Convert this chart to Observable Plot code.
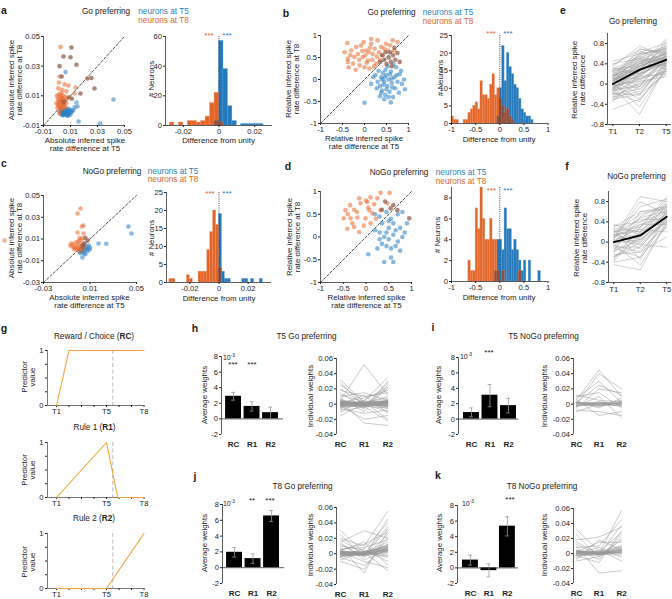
<!DOCTYPE html>
<html><head><meta charset="utf-8">
<script src="https://cdn.jsdelivr.net/npm/d3@7"></script>
<script src="https://cdn.jsdelivr.net/npm/@observablehq/plot@0.6"></script>
<style>
body{margin:0;background:#fff;}
#root{position:relative;width:672px;height:599px;overflow:hidden;font-family:"Liberation Sans",Arial,sans-serif;}
.t{position:absolute;white-space:nowrap;color:#222;line-height:1;}
</style></head><body><div id="root"></div>
<script>
// ---------------- DATA ----------------
// a: Go preferring, absolute differences (x = T5, y = T8)
const aT5 = [[0.0025,-0.0010],[0.0030,-0.0020],[0.0035,-0.0005],[0.0040,-0.0025],[0.0042,-0.0012],[0.0048,-0.0030],[0.0050,-0.0008],[0.0052,-0.0018],[0.0055,0.0002],[0.0058,-0.0027],[0.0060,-0.0012],[0.0063,-0.0020],[0.0066,-0.0004],[0.0070,-0.0030],[0.0072,-0.0015],[0.0075,0.0005],[0.0078,-0.0022],[0.0082,-0.0008],[0.0085,-0.0030],[0.0088,0.0012],[0.0092,-0.0018],[0.0095,0.0003],[0.0100,-0.0026],[0.0105,-0.0010],[0.0110,0.0000],[0.0032,0.0012],[0.0045,0.0008],[0.0038,-0.0030],[0.0068,0.0015],[0.0080,-0.0035],[0.0418,0.0075],[0.0320,-0.0087],[0.0160,-0.0073],[0.0144,0.0055],[0.0130,0.0022],[0.0152,0.0028],[0.0120,0.0001],[0.0063,0.0260]];
const aT8 = [[0.0026,0.0430],[0.0019,0.0230],[0.0056,0.0177],[0.0137,0.0156],[0.0130,0.0116],[0.0033,0.0120],[0.0010,0.0150],[0.0040,0.0140],[0.0070,0.0130],[0.0015,0.0190],[0.0085,0.0170],[0.0000,0.0100],[0.0005,0.0080],[0.0010,0.0060],[0.0012,0.0030],[0.0015,0.0000],[0.0018,-0.0020],[0.0020,0.0090],[0.0022,0.0050],[0.0025,0.0020],[0.0028,0.0070],[0.0030,0.0040],[0.0033,0.0010],[0.0035,0.0085],[0.0038,0.0060],[0.0040,0.0030],[0.0043,0.0100],[0.0045,0.0050],[0.0048,0.0020],[0.0050,0.0075],[0.0053,0.0035],[0.0055,0.0055],[0.0058,0.0095],[0.0060,0.0025],[0.0065,0.0070],[0.0070,0.0050],[0.0075,0.0085],[0.0008,0.0040],[0.0013,0.0110],[0.0003,0.0020],[0.0018,0.0070],[0.0027,0.0105],[0.0032,0.0065],[0.0042,0.0080],[0.0047,0.0040],[-0.0005,0.0050]];
const aBoth = [[0.0107,0.0426],[0.0048,0.0365],[0.0100,0.0360],[0.0144,0.0310],[0.0019,0.0300],[0.0226,0.0217],[0.0255,0.0220],[0.0278,0.0149],[0.0174,0.0116],[0.0035,0.0230],[0.0090,0.0090],[0.0110,0.0080],[0.0050,0.0060]];
const aScatDom = [-0.01, 0.05];
const aScatTicks = [-0.01, 0.01, 0.03, 0.05];
// a histogram: [bin start, count]
const aBinW = 0.0025;
const aHistT8 = [[-0.0275,2],[-0.025,0],[-0.0225,2],[-0.02,0],[-0.0175,3],[-0.015,3],[-0.0125,2],[-0.01,3],[-0.0075,6],[-0.005,15],[-0.0025,22],[0,2]];
const aHistT5 = [[-0.0025,3],[0,57],[0.0025,38],[0.005,13],[0.0075,3],[0.0125,1],[0.015,1],[0.0175,1],[0.02,1],[0.0225,1]];
const aHistDom = [-0.03, 0.03];
const aHistTicks = [-0.02, 0, 0.02];
const aHistY = [0, 60];
const aHistYTicks = [0, 20, 40, 60];

// b: Go preferring, relative differences
const bT5 = [[0.25,0.10],[0.30,-0.05],[0.32,0.20],[0.35,-0.15],[0.38,0.05],[0.40,-0.25],[0.42,0.15],[0.45,-0.05],[0.47,-0.35],[0.50,0.10],[0.52,-0.15],[0.55,0.00],[0.57,-0.28],[0.60,0.18],[0.62,-0.08],[0.65,-0.40],[0.68,0.05],[0.70,-0.20],[0.72,0.28],[0.75,-0.05],[0.78,-0.30],[0.80,0.12],[0.85,-0.10],[0.90,0.00],[0.60,-0.52],[0.45,-0.45],[0.35,-0.38],[0.28,-0.20],[0.20,0.05],[0.15,-0.10],[0.00,-0.53],[0.53,0.30],[0.48,0.22],[0.66,0.35],[0.58,0.12],[0.43,-0.12],[0.63,-0.18],[0.73,0.10],[0.38,-0.30],[0.55,-0.40],[0.83,0.20],[0.92,-0.22],[0.50,-0.22],[0.40,0.00],[0.62,0.02],[0.46,0.05]];
const bT8 = [[-0.39,0.83],[-0.38,0.47],[-0.38,0.40],[-0.36,0.28],[-0.19,0.74],[-0.15,0.58],[-0.08,0.77],[-0.04,0.51],[0.04,0.66],[0.08,0.43],[0.15,0.81],[0.19,0.58],[0.23,0.70],[0.26,0.36],[0.30,0.89],[0.38,0.74],[0.41,0.55],[0.49,0.81],[0.53,0.66],[0.64,0.89],[0.68,0.66],[0.75,0.85],[-0.26,0.36],[-0.23,0.51],[-0.11,0.32],[0.00,0.28],[0.11,0.25],[-0.30,0.66],[-0.45,0.62],[-0.12,0.45],[0.02,0.55],[0.10,0.62],[0.18,0.45],[0.28,0.52],[-0.05,0.65],[0.12,0.72],[0.22,0.30],[-0.20,0.22],[0.05,0.38],[0.33,0.62],[0.45,0.70],[-0.32,0.55],[0.58,0.78],[0.15,0.92],[-0.02,0.85],[0.35,0.45]];
const bBoth = [[0.45,0.45],[0.55,0.50],[0.60,0.40],[0.50,0.35],[0.65,0.55],[0.70,0.45],[0.40,0.55],[0.58,0.62],[0.75,0.60],[0.62,0.30],[0.35,0.40],[0.48,0.62],[0.68,0.72],[0.80,0.40]];
const relDom = [-1, 1];
const relTicks = [-1, -0.5, 0, 0.5, 1];
const bBinW = 0.05;
const bHistT8 = [[-1,2],[-0.95,1],[-0.9,1],[-0.75,1],[-0.7,1],[-0.65,3],[-0.6,4],[-0.55,5],[-0.5,6],[-0.45,4],[-0.4,12],[-0.35,8],[-0.3,8],[-0.25,7],[-0.2,11],[-0.15,14],[-0.1,8],[-0.05,10],[0,7],[0.05,5],[0.1,3],[0.15,4],[0.2,2],[0.25,1]];
const bHistT5 = [[-0.05,2],[0,10],[0.05,22],[0.1,12],[0.15,20],[0.2,16],[0.25,14],[0.3,11],[0.35,10],[0.4,7],[0.45,4],[0.5,3],[0.55,2],[0.6,2],[0.65,1]];
const bHistY = [0, 25];
const bHistYTicks = [0, 5, 10, 15, 20, 25];

// c: NoGo preferring, absolute differences
const cT5 = [[0.0430,0.0215],[0.0457,0.0150],[0.0173,0.0058],[0.0240,0.0056],[0.0096,0.0003],[0.0035,-0.0070],[0.0010,-0.0020],[0.0020,0.0010],[0.0030,-0.0010],[0.0040,0.0020],[0.0050,-0.0030],[0.0060,0.0000],[0.0070,0.0030],[0.0080,-0.0010],[0.0090,0.0040],[0.0050,0.0050],[0.0030,0.0030],[0.0060,-0.0040],[0.0020,-0.0030],[0.0070,0.0010],[0.0100,0.0020],[0.0040,-0.0010]];
const cT8 = [[-0.0635,0.0086],[-0.0007,0.0334],[0.0018,0.0380],[0.0044,0.0224],[0.0030,0.0215],[-0.0007,0.0160],[0.0044,0.0150],[0.0010,0.0110],[0.0035,0.0105],[-0.0070,0.0040],[-0.0060,0.0060],[-0.0050,0.0030],[-0.0040,0.0050],[-0.0030,0.0020],[-0.0020,0.0070],[-0.0010,0.0040],[0.0000,0.0010],[0.0010,0.0060],[0.0020,0.0030],[0.0030,0.0000],[0.0040,0.0050],[0.0050,0.0020],[-0.0020,0.0000],[0.0000,0.0080],[-0.0040,0.0010],[0.0020,0.0090],[0.0030,0.0040],[0.0010,-0.0010],[-0.0010,0.0020]];
const cBoth = [[0.0060,0.0110],[0.0080,0.0086],[0.0050,0.0060],[0.0040,0.0030]];
const cScatDom = [-0.03, 0.05];
const cScatXTicks = [-0.03, 0.01, 0.05];
const cScatYTicks = [-0.03, -0.01, 0.01, 0.03, 0.05];
const cBinW = 0.002;
const cHistT8 = [[-0.034,1],[-0.032,1],[-0.022,2],[-0.02,1],[-0.014,3],[-0.012,3],[-0.01,3],[-0.008,9],[-0.006,14],[-0.004,20],[-0.002,16],[0,4]];
const cHistT5 = [[0,19],[0.002,3],[0.004,1],[0.006,1],[0.016,1],[0.018,1],[0.022,1],[0.028,1]];
const cHistDom = [-0.036, 0.036];
const cHistTicks = [-0.02, 0, 0.02];
const cHistY = [0, 25];

// d: NoGo preferring, relative differences
const dT5 = [[0.20,0.50],[0.30,0.45],[0.45,0.55],[0.55,0.40],[0.70,0.50],[0.80,0.55],[0.35,0.30],[0.50,0.20],[0.60,0.30],[0.75,0.20],[0.85,0.10],[0.30,0.10],[0.40,0.00],[0.50,-0.05],[0.60,0.05],[0.70,-0.10],[0.80,0.00],[0.35,-0.15],[0.45,-0.20],[0.55,-0.25],[0.65,-0.20],[0.75,-0.30],[0.40,-0.55],[0.60,-0.55],[0.05,-0.38],[0.25,-0.25],[0.30,-0.05],[0.50,0.35],[0.65,0.15],[0.90,0.30],[0.20,0.15],[0.45,0.10],[0.55,-0.45]];
const dT8 = [[-0.45,0.59],[-0.26,0.60],[-0.12,0.74],[0.03,0.77],[0.18,0.72],[-0.34,0.41],[-0.19,0.43],[-0.01,0.41],[0.14,0.52],[-0.26,0.22],[-0.15,0.11],[-0.41,0.18],[-0.49,0.41],[0.07,0.59],[0.32,0.59],[0.47,0.74],[0.10,0.87],[0.32,0.97],[0.52,0.97],[0.00,0.80],[-0.15,0.85],[0.25,0.85],[-0.35,0.70],[-0.05,0.25],[0.10,0.30],[-0.30,0.30],[0.22,0.40],[-0.20,0.55],[0.05,0.65],[-0.40,0.50]];
const dBoth = [[0.35,0.60],[0.54,0.63],[0.69,0.59],[0.95,0.41],[0.60,0.70],[0.42,0.78]];
const dBinW = 0.05;
const dHistT8 = [[-0.65,2],[-0.6,1],[-0.55,1],[-0.5,7],[-0.45,5],[-0.4,9],[-0.35,6],[-0.3,4],[-0.25,4],[-0.2,6],[-0.15,4],[-0.1,4],[-0.05,1],[0.05,1],[0.4,1]];
const dHistT5 = [[-0.1,1],[-0.05,4],[0,4],[0.05,3],[0.1,7],[0.15,5],[0.2,5],[0.25,3],[0.3,4],[0.35,3],[0.4,2],[0.45,1],[0.5,2],[0.6,2],[0.8,1]];
const dHistY = [0, 9];
const dHistYTicks = [0, 2, 4, 6, 8];

// e / f: relative inferred spike rate difference per neuron at T1, T2, T5
const timeLabels = ["T1", "T2", "T5"];
const eLines = [[0.05,0.35,0.55],[-0.10,0.20,0.45],[0.15,0.45,0.60],[-0.20,-0.10,0.30],[0.00,0.60,0.70],[0.10,0.30,0.40],[-0.05,0.50,0.65],[0.25,0.40,0.50],[-0.15,0.10,0.35],[0.08,-0.20,0.45],[0.30,0.55,0.75],[-0.25,0.00,0.25],[0.12,0.70,0.60],[-0.08,0.25,0.55],[0.02,-0.45,0.30],[0.20,0.15,0.55],[-0.12,0.40,0.80],[0.40,0.50,0.35],[-0.30,-0.20,0.20],[0.06,0.35,0.90],[-0.02,0.05,0.15],[0.18,0.65,0.45],[-0.18,-0.35,0.40],[0.10,0.20,0.70],[0.00,0.45,0.50],[-0.06,-0.60,0.35],[0.22,0.30,0.65],[-0.22,0.15,0.50],[0.35,0.75,0.55],[-0.10,-0.05,0.60],[0.05,0.55,0.40],[0.14,0.10,0.25],[-0.04,0.30,0.75],[0.28,0.20,0.45],[-0.16,0.35,0.55],[0.45,0.60,0.70],[-0.26,-0.15,0.35],[0.00,0.25,0.85],[0.16,0.45,0.30],[-0.14,0.00,0.45],[0.08,0.40,0.60],[-0.35,0.20,0.40],[0.20,-0.05,0.50],[-0.50,-0.30,0.25],[0.04,0.15,0.20],[0.10,0.50,0.50],[-0.08,0.30,0.40],[0.30,0.35,0.60],[0.02,0.42,0.62],[-0.12,0.18,0.52],[0.18,0.28,0.58],[-0.28,0.05,0.48],[0.06,0.62,0.82],[0.12,-0.10,0.38],[-0.06,0.12,0.66],[0.24,0.48,0.42],[-0.20,0.32,0.62],[0.32,0.22,0.52],[0.00,-0.30,0.28],[0.16,0.58,0.68],[-0.10,0.40,0.36],[0.08,0.26,0.78],[-0.32,-0.05,0.30],[0.38,0.68,0.64],[-0.04,0.08,0.44],[0.14,0.36,0.54],[-0.18,-0.22,0.42],[0.26,0.52,0.72]];
const eMean = [0.00, 0.28, 0.48];
const fLines = [[0.05,0.15,0.55],[-0.20,0.20,0.70],[0.25,0.05,0.40],[-0.40,-0.30,0.30],[0.10,0.90,0.80],[0.00,0.40,0.60],[-0.10,-0.10,0.45],[0.20,0.30,0.90],[-0.30,0.10,0.50],[0.30,0.60,0.65],[-0.05,-0.45,0.35],[0.15,0.25,0.20],[-0.15,0.50,0.75],[0.35,0.15,0.55],[-0.25,-0.20,0.10],[0.08,0.70,0.85],[-0.45,-0.55,0.40],[0.12,0.00,0.60],[-0.08,0.35,0.50],[0.22,-0.15,0.30],[0.00,0.10,0.75],[-0.35,0.30,0.65],[0.18,0.45,0.45],[-0.12,-0.30,0.55],[0.28,0.20,0.80],[0.04,-0.05,-0.10],[-0.20,0.60,0.70],[0.10,0.35,0.35],[-0.02,0.05,0.60],[0.25,-0.35,0.50],[-0.30,0.00,0.40],[0.06,0.80,0.55],[0.14,0.22,0.62],[-0.18,0.05,0.45],[0.32,0.40,0.72],[-0.06,-0.20,0.38],[0.20,0.55,0.68],[-0.28,-0.10,0.52],[0.02,0.28,0.85],[-0.38,0.18,0.58],[0.16,-0.05,0.42],[0.08,0.48,0.62]];
const fMean = [0.00, 0.13, 0.50];
const lineYDom = [-0.8, 1.0];
const lineYTicks = [-0.8, -0.4, 0, 0.4, 0.8];

// g: predictors over trial time (T1..T8)
const gTickPos = [1, 2, 3, 4, 5, 6, 7, 8];
const gTickLabels = {1: "T1", 5: "T5", 8: "T8"};
const rcT = [1, 2, 8], rcV = [0, 1, 1];
const r1T = [1, 5, 5.9, 8], r1V = [0, 1, 0, 0];
const r2T = [1, 5, 8], r2V = [0, 0, 1];
const gMarker = 5.5;

// h-k: regression weights
const wCats = ["RC", "R1", "R2"];
const hMean = [2.9, 1.6, 0.8], hLo = [2.4, 1.0, 0.05], hHi = [3.4, 2.2, 1.5];
const iMean = [0.85, 3.1, 1.75], iLo = [0.3, 1.6, 0.8], iHi = [1.45, 4.5, 2.7];
const jMean = [1.95, 1.15, 6.55], jLo = [1.35, 0.55, 5.85], jHi = [2.55, 1.75, 7.25];
const kMean = [1.0, -0.35, 5.35], kLo = [0.35, -1.15, 4.1], kHi = [1.65, 0.5, 6.55];
const wBarDom = [-2, 8], wBarTicks = [-2, 0, 2, 4, 6, 8];
const wIndDom = [-0.04, 0.06], wIndTicks = [-0.04, -0.02, 0, 0.02, 0.04, 0.06];
const hInd = [[0.032,0.002,0.010],[0.028,-0.002,0.020],[0.025,0.004,0.035],[0.020,0.000,-0.010],[0.018,0.010,0.015],[0.015,-0.005,0.030],[0.012,0.003,-0.020],[0.010,0.015,0.005],[0.008,-0.010,0.025],[0.005,0.052,0.012],[0.004,-0.025,-0.028],[0.002,0.008,0.018],[-0.002,-0.020,-0.015],[-0.004,0.005,0.022],[-0.006,-0.012,-0.008],[-0.008,0.002,0.008],[-0.010,-0.003,-0.022],[-0.015,0.000,0.004],[0.000,0.012,-0.012],[0.006,-0.006,0.028],[0.003,0.001,0.002],[-0.002,0.000,-0.001],[0.001,-0.002,0.003],[0.002,0.002,-0.003],[-0.003,0.001,0.001],[0.004,-0.001,0.004],[-0.001,0.003,-0.002],[0.000,-0.001,0.000],[0.002,0.000,-0.004],[-0.004,-0.002,0.003],[0.001,0.002,0.005],[-0.002,-0.003,-0.005],[0.005,0.001,0.001],[-0.005,0.000,0.002],[0.003,-0.003,-0.001],[0.000,0.004,0.003],[-0.001,-0.004,0.006],[0.002,0.001,-0.006],[0.001,0.001,0.001],[-0.001,0.001,-0.002],[0.002,-0.001,0.002],[-0.002,0.002,0.004],[0.003,0.000,-0.002],[0.000,-0.002,0.004],[-0.003,0.000,-0.003],[0.004,0.002,0.000],[0.001,-0.001,-0.001],[-0.001,0.002,0.002]];
const iInd = [[0.005,0.045,0.010],[0.000,0.040,0.020],[0.008,0.030,0.002],[-0.005,0.020,0.015],[0.010,0.015,-0.005],[-0.008,-0.010,-0.015],[0.003,-0.005,0.008],[-0.003,0.010,-0.018],[0.012,0.005,0.003],[-0.010,0.000,0.005],[0.006,-0.015,-0.010],[0.002,0.025,0.012],[0.001,0.002,0.001],[-0.002,0.000,-0.002],[0.003,-0.001,0.002],[0.000,0.003,-0.001],[-0.001,-0.002,0.003],[0.002,0.001,-0.003],[-0.003,0.002,0.000],[0.001,-0.003,0.002],[0.000,0.001,0.000],[0.002,-0.002,-0.001],[-0.002,0.001,0.001]];
const jInd = [[0.030,0.002,0.015],[0.025,-0.005,0.025],[0.020,0.010,0.055],[0.018,0.000,0.035],[0.015,0.030,0.020],[0.012,-0.003,0.045],[0.010,0.005,-0.010],[0.008,-0.025,0.030],[0.005,0.012,0.028],[0.002,-0.010,-0.018],[-0.002,0.006,0.040],[-0.005,-0.015,0.010],[-0.008,0.003,-0.005],[-0.010,-0.020,0.022],[0.004,0.015,-0.015],[0.000,-0.002,0.032],[0.006,0.008,0.018],[-0.004,0.000,0.012],[0.014,-0.008,0.005],[0.003,0.002,-0.022],[0.002,0.001,0.006],[-0.002,-0.001,0.004],[0.003,0.002,0.008],[0.000,-0.002,0.002],[-0.003,0.001,0.010],[0.004,-0.001,0.005],[0.001,0.003,-0.002],[-0.001,0.000,0.007],[0.002,-0.003,0.003],[-0.004,0.002,0.009],[0.003,0.000,-0.003],[0.000,0.001,0.012],[0.001,0.000,0.005],[-0.002,0.001,0.003],[0.003,-0.001,0.007],[0.000,0.002,0.010],[-0.001,-0.001,0.001],[0.002,0.000,0.004],[0.001,0.002,0.006],[-0.003,-0.002,0.008]];
const kInd = [[0.032,0.003,0.010],[0.025,-0.005,0.020],[0.018,0.022,0.035],[0.015,0.000,0.057],[0.010,-0.026,-0.023],[0.008,0.010,0.045],[0.005,-0.008,0.025],[0.002,0.015,0.015],[-0.003,-0.012,0.030],[-0.006,0.005,-0.010],[-0.008,0.018,0.005],[0.012,-0.002,0.038],[0.000,0.008,-0.005],[-0.010,-0.004,0.018],[0.004,0.002,0.028],[0.002,0.001,0.004],[-0.002,0.000,0.002],[0.001,-0.002,0.006],[0.003,0.002,0.000],[-0.001,0.001,0.008],[0.000,-0.001,-0.002],[0.002,0.003,0.005],[-0.003,-0.002,0.003],[0.001,0.000,0.010],[0.004,-0.001,0.001],[0.001,0.001,0.003],[-0.001,-0.001,0.005],[0.002,0.000,0.007],[0.000,0.002,0.001],[-0.002,0.001,0.004],[0.003,-0.001,0.002]];

// ---------------- DRAWING ----------------
const FONT = '"Liberation Sans", Arial, Helvetica, sans-serif';
const root = document.getElementById("root");
const AX = "#333";
const TICK = 7.6;
const BLUE = "#2479bd", ORANGE = "#e2652a", BROWN = "#8a4f3e";
const DOT_BLUE = "#2a80c4", DOT_ORANGE = "#ea6c2f", DOT_BOTH = "#93604e";
const GREY = "#a3a3a3";

function put(cfg, L, T, R, B, m) {
  m = Object.assign({t: 6, r: 6, b: 16, l: 32}, m || {});
  const svg = Plot.plot(Object.assign({
    width: R - L + m.l + m.r, height: B - T + m.t + m.b,
    marginLeft: m.l, marginRight: m.r, marginTop: m.t, marginBottom: m.b,
    style: {fontFamily: FONT, fontSize: TICK + "px", background: "none", color: "#222", overflow: "visible"}
  }, cfg));
  Object.assign(svg.style, {position: "absolute", left: (L - m.l) + "px", top: (T - m.t) + "px", maxWidth: "none"});
  root.appendChild(svg);
}
function txt(html, x, y, o = {}) {
  const d = document.createElement("div");
  d.className = "t";
  d.innerHTML = html;
  d.style.left = x + "px"; d.style.top = y + "px";
  d.style.fontSize = (o.size || 8.2) + "px";
  if (o.color) d.style.color = o.color;
  if (o.bold) d.style.fontWeight = "bold";
  d.style.transform = "translate(-50%,-50%)" + (o.rot ? ` rotate(${o.rot}deg)` : "");
  root.appendChild(d);
}
const fmt = d => String(d);
const axY = (ticks, f = fmt, o = {}) => Plot.axisY({ticks, tickFormat: f, tickSize: 2, tickPadding: 1.5, label: null, color: "#222", ...o});
const axX = (ticks, f = fmt, o = {}) => Plot.axisX({ticks, tickFormat: f, tickSize: 2, tickPadding: 1.5, label: null, color: "#222", ...o});
const frameLines = (x0, y0, o = {}) => [
  Plot.ruleX([x0], {stroke: o.stroke || AX, strokeWidth: 0.8}),
  Plot.ruleY([y0], {stroke: o.stroke || AX, strokeWidth: 0.8})
];
const P = d => d[0], Q = d => d[1];

function scatterMarks(T5, T8, both, dom) {
  return [
    Plot.line(dom.map(v => [v, v]), {x: P, y: Q, stroke: "#222", strokeWidth: 0.8, strokeDasharray: "2.5,2"}),
    Plot.dot(T5, {x: P, y: Q, r: 2.3, fill: DOT_BLUE, fillOpacity: 0.55}),
    Plot.dot(T8, {x: P, y: Q, r: 2.3, fill: DOT_ORANGE, fillOpacity: 0.55}),
    Plot.dot(both, {x: P, y: Q, r: 2.3, fill: DOT_BOTH, fillOpacity: 0.75})
  ];
}
function overlap(A, B) {
  const m = new Map(B.map(d => [d[0].toFixed(4), d[1]]));
  return A.map(d => [d[0], Math.min(d[1], m.get(d[0].toFixed(4)) || 0)]).filter(d => d[1] > 0);
}
function histMarks(T5, T8, w) {
  const o = {x1: P, x2: d => d[0] + w, y1: 0, y2: Q, strokeWidth: 0.35};
  return [
    Plot.rectY(T5, {...o, fill: BLUE, stroke: "#5c9ad0"}),
    Plot.rectY(T8, {...o, fill: ORANGE, stroke: "#f08c5c"}),
    Plot.rectY(overlap(T5, T8), {...o, fill: BROWN, stroke: "#a7705e"}),
    Plot.ruleX([0], {stroke: "#222", strokeWidth: 0.8, strokeDasharray: "1,1.2"})
  ];
}
const rows = lines => lines.flatMap((v, i) => v.map((y, j) => ({i, x: j + 1, y})));

// ---- a ----
put({x: {domain: aScatDom}, y: {domain: aScatDom}, marks: [
  ...frameLines(aScatDom[0], aScatDom[0]), axY(aScatTicks), axX(aScatTicks),
  ...scatterMarks(aT5, aT8, aBoth, aScatDom)
]}, 43, 36, 124, 125);
put({x: {domain: aHistDom}, y: {domain: aHistY}, marks: [
  ...histMarks(aHistT5, aHistT8, aBinW),
  ...frameLines(aHistDom[0], 0), axY(aHistYTicks), axX(aHistTicks)
]}, 165, 36, 272, 125);

// ---- b ----
put({x: {domain: relDom}, y: {domain: relDom}, marks: [
  ...frameLines(-1, -1), axY(relTicks), axX(relTicks),
  ...scatterMarks(bT5, bT8, bBoth, relDom)
]}, 320, 35, 408, 123);
put({x: {domain: relDom}, y: {domain: bHistY}, marks: [
  ...histMarks(bHistT5, bHistT8, bBinW),
  ...frameLines(-1, 0), axY(bHistYTicks), axX(relTicks)
]}, 451, 35, 547.5, 123);

// ---- c ----
put({x: {domain: cScatDom}, y: {domain: cScatDom}, marks: [
  ...frameLines(cScatDom[0], cScatDom[0]), axY(cScatYTicks), axX(cScatXTicks),
  ...scatterMarks(cT5, cT8, cBoth, cScatDom)
]}, 43, 195, 136, 282, {l: 42});
put({x: {domain: cHistDom}, y: {domain: cHistY}, marks: [
  ...histMarks(cHistT5, cHistT8, cBinW),
  ...frameLines(cHistDom[0], 0), axY(bHistYTicks), axX(cHistTicks)
]}, 166, 192, 271, 282);

// ---- d ----
put({x: {domain: relDom}, y: {domain: relDom}, marks: [
  ...frameLines(-1, -1), axY(relTicks), axX(relTicks),
  ...scatterMarks(dT5, dT8, dBoth, relDom)
]}, 320, 191, 411, 282);
put({x: {domain: relDom}, y: {domain: dHistY}, marks: [
  ...histMarks(dHistT5, dHistT8, dBinW),
  ...frameLines(-1, 0), axY(dHistYTicks), axX(relTicks)
]}, 451, 187, 547.5, 281);

// ---- e / f ----
function linePanel(lines, mean, L, T, R, B) {
  put({x: {domain: [0.8, 3.2]}, y: {domain: lineYDom}, marks: [
    ...frameLines(0.8, lineYDom[0]), axY(lineYTicks), axX([1, 2, 3], i => timeLabels[i - 1], {tickPadding: 2}),
    Plot.line(rows(lines), {x: "x", y: "y", z: "i", stroke: GREY, strokeWidth: 0.55, strokeOpacity: 0.9}),
    Plot.line(mean.map((y, j) => ({x: j + 1, y})), {x: "x", y: "y", stroke: "#000", strokeWidth: 1.8})
  ]}, L, T, R, B);
}
linePanel(eLines, eMean, 607, 33, 671, 124);
linePanel(fLines, fMean, 608, 191, 671.5, 282);

// ---- g ----
function gPanel(ts, vs, T, B) {
  put({x: {domain: [0.28, 8]}, y: {domain: [0, 1]}, marks: [
    Plot.ruleX([gMarker], {stroke: "#bdbdbd", strokeWidth: 1, strokeDasharray: "4,2.5"}),
    ...frameLines(0.28, 0, {stroke: "#555"}),
    axY([0, 0.25, 0.5, 0.75, 1], d => (d === 0 || d === 1) ? String(d) : "", {tickPadding: 2}),
    axX(gTickPos, d => gTickLabels[d] || "", {tickPadding: 1}),
    Plot.line(ts.map((t, j) => ({t, v: vs[j]})), {x: "t", y: "v", stroke: "#f0a43a", strokeWidth: 1.1})
  ]}, 47, T, 143.5, B);
}
gPanel(rcT, rcV, 350, 405);
gPanel(r1T, r1V, 442, 497);
gPanel(r2T, r2V, 533, 588);

// ---- h-k ----
function barPanel(mean, lo, hi, L, T, R, B, xdom) {
  const idx = [0, 1, 2];
  put({x: {domain: xdom}, y: {domain: wBarDom}, marks: [
    Plot.rectY(idx, {x1: i => i + 1 - 0.43, x2: i => i + 1 + 0.43, y1: 0, y2: i => mean[i], fill: "#000"}),
    Plot.ruleX(idx, {x: i => i + 1, y1: i => lo[i], y2: i => hi[i], stroke: "#9a9a9a", strokeWidth: 0.8}),
    Plot.ruleY(idx, {y: i => lo[i], x1: i => i + 1 - 0.1, x2: i => i + 1 + 0.1, stroke: "#9a9a9a", strokeWidth: 0.8}),
    Plot.ruleY(idx, {y: i => hi[i], x1: i => i + 1 - 0.1, x2: i => i + 1 + 0.1, stroke: "#9a9a9a", strokeWidth: 0.8}),
    ...frameLines(xdom[0], 0),
    axY(wBarTicks),
    axX([1, 2, 3], i => wCats[i - 1], {tickSize: 0, tickPadding: 7, fontWeight: "bold", fontSize: 8})
  ]}, L, T, R, B);
}
function indPanel(lines, L, T, R, B, xdom) {
  put({x: {domain: xdom}, y: {domain: wIndDom}, marks: [
    Plot.ruleX([xdom[0]], {stroke: AX, strokeWidth: 0.8}),
    axY(wIndTicks),
    axX([1, 2, 3], i => wCats[i - 1], {tickSize: 0, tickPadding: 7, fontWeight: "bold", fontSize: 8}),
    Plot.line(rows(lines), {x: "x", y: "y", z: "i", stroke: "#979797", strokeWidth: 0.6, strokeOpacity: 0.85})
  ]}, L, T, R, B);
}
barPanel(hMean, hLo, hHi, 221, 356, 283, 434, [0.35, 3.7]);
indPanel(hInd, 336, 358, 392, 434, [0.83, 3.2]);
barPanel(iMean, iLo, iHi, 458, 357, 518, 434, [0.3, 3.54]);
indPanel(iInd, 573, 358, 630, 434, [0.87, 3.4]);
barPanel(jMean, jLo, jHi, 222, 504, 284, 583, [0.35, 3.7]);
indPanel(jInd, 336, 507, 392, 584, [0.83, 3.2]);
barPanel(kMean, kLo, kHi, 457, 505, 518, 583, [0.3, 3.6]);
indPanel(kInd, 573, 508, 630, 583, [0.87, 3.4]);

// ---------------- TEXT ----------------
const L = {size: 10.5, bold: true};
txt("a", 4, 10, L); txt("b", 286, 13, L); txt("e", 563, 10, L);
txt("c", 4, 163, L); txt("d", 288, 166, L); txt("f", 567, 166, L);
txt("g", 4, 328, L); txt("h", 195, 328, L); txt("i", 433, 327, L);
txt("j", 195, 476, L); txt("k", 438, 475, L);
const CB = {color: "#2a7fc0"}, CO = {color: "#e0652b"};
txt("Go preferring", 106, 12.3); txt("neurons at T5", 163.5, 12.3, CB); txt("neurons at T8", 163.5, 21, CO);
txt("Go preferring", 391.5, 13.3); txt("neurons at T5", 448, 13.3, CB); txt("neurons at T8", 448, 21.7, CO);
txt("NoGo preferring", 112, 171.7); txt("neurons at T5", 173, 171.7, CB); txt("neurons at T8", 173, 180, CO);
txt("NoGo preferring", 399, 173.3); txt("neurons at T5", 461, 173.3, CB); txt("neurons at T8", 461, 182, CO);
txt("Go preferring", 633, 21.7); txt("NoGo preferring", 636.5, 176.7);
txt("Reward / Choice (<b>RC</b>)", 94, 336.7); txt("Rule 1 (<b>R1</b>)", 94.5, 427.7); txt("Rule 2 (<b>R2</b>)", 94, 519.3);
txt("T5 Go preferring", 306.5, 336.7); txt("T5 NoGo preferring", 543.5, 337);
txt("T8 Go preferring", 302.5, 487); txt("T8 NoGo preferring", 542, 487);
// axis titles (two lines)
const AT = {size: 7.9};
const R = {rot: -90, size: 7.9};
function yTitle2(l1, l2, x1, x2, y) { txt(l1, x1, y, R); txt(l2, x2, y, R); }
function xTitle2(l1, l2, x, y1) { txt(l1, x, y1, AT); txt(l2, x, y1 + 8.1, AT); }
yTitle2("Absolute inferred spike", "rate difference at T8", 12, 20.3, 80);
yTitle2("Relative inferred spike", "rate difference at T8", 288.5, 296.8, 79);
yTitle2("Absolute inferred spike", "rate difference at T8", 12, 20.3, 238);
yTitle2("Relative inferred spike", "rate difference at T8", 289.5, 297.8, 237);
yTitle2("Relative inferred spike", "rate difference", 574.5, 582.8, 80);
yTitle2("Relative inferred spike", "rate difference", 576.5, 584.8, 238);
xTitle2("Absolute inferred spike", "rate difference at T5", 85, 140.8);
xTitle2("Relative inferred spike", "rate difference at T5", 364, 139);
xTitle2("Absolute inferred spike", "rate difference at T5", 89.5, 298.2);
xTitle2("Relative inferred spike", "rate difference at T5", 366.5, 297.8);
txt("# Neurons", 151.5, 79, R); txt("# Neurons", 441, 78, R); txt("# Neurons", 152, 238, R); txt("# Neurons", 438, 235, R);
txt("Difference from unity", 218.5, 141.3, AT); txt("Difference from unity", 499, 140, AT);
txt("Difference from unity", 219, 299, AT); txt("Difference from unity", 499, 298, AT);
[377, 470, 562].forEach(y => yTitle2("Predictor", "value", 24.8, 32.8, y));
txt("Average weights", 205, 395, R); txt("Individual weights", 311, 396, R);
txt("Average weights", 439, 395, R); txt("Individual weights", 545, 396, R);
txt("Average weights", 205, 543, R); txt("Individual weights", 311, 545, R);
txt("Average weights", 440, 543, R); txt("Individual weights", 545, 545, R);
// scale factors
const SF = "10<sup style='font-size:5px;vertical-align:3px'>-3</sup>";
txt(SF, 229, 357, {size: 7}); txt(SF, 466, 356, {size: 7}); txt(SF, 229, 503, {size: 7}); txt(SF, 468, 503, {size: 7});
// significance stars
const S = {size: 8};
txt("***", 233, 365, S); txt("***", 252, 365, S); txt("***", 489, 353, S);
txt("**", 252, 501, S); txt("***", 270, 501, S); txt("***", 510, 500, S);
txt("***", 209, 35.5, {...S, ...CO}); txt("***", 227, 35.5, {...S, ...CB});
txt("***", 491, 33.5, {...S, ...CO}); txt("***", 508, 33.5, {...S, ...CB});
txt("***", 210, 194, {...S, ...CO}); txt("***", 227, 194, {...S, ...CB});
txt("***", 491.5, 190.5, {...S, ...CO}); txt("***", 508, 190.5, {...S, ...CB});
</script></body></html>
